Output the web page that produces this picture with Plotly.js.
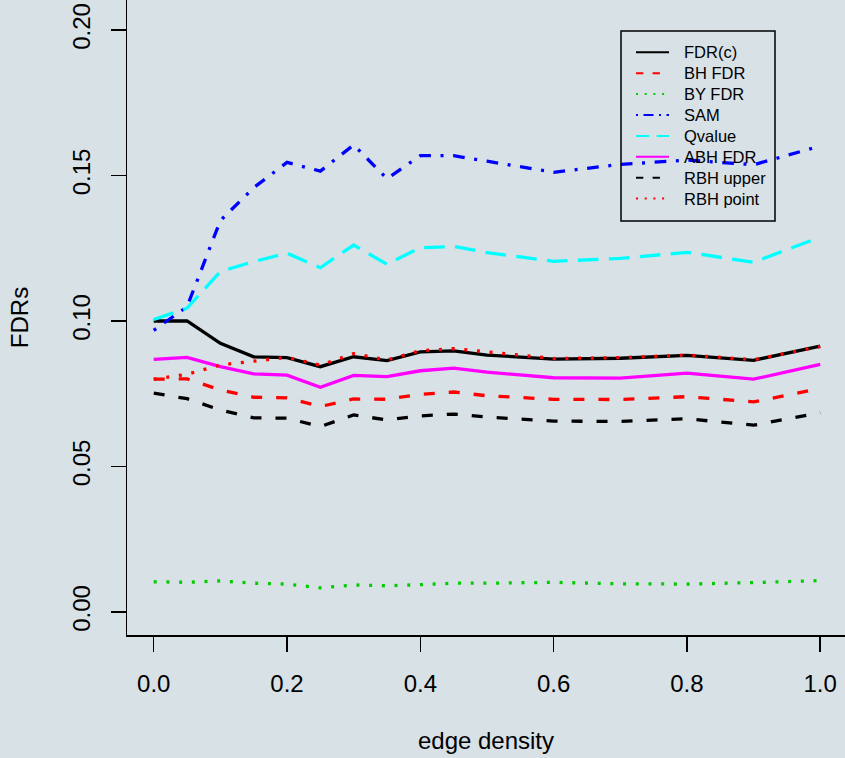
<!DOCTYPE html>
<html><head><meta charset="utf-8">
<script src="https://cdn.plot.ly/plotly-3.0.1.min.js"></script>
<style>html,body{margin:0;padding:0;background:#D7E1E6;}</style>
</head><body>
<div id="chart" style="width:845px;height:758px;"></div>
<script>
// ---- data ----
const edgeDensity = [0, 0.05, 0.1, 0.15, 0.2, 0.25, 0.3, 0.35, 0.4, 0.45, 0.5, 0.6, 0.7, 0.8, 0.9, 1.0];
const fdrC     = [0.1000, 0.1000, 0.0923, 0.0877, 0.0874, 0.0843, 0.0877, 0.0864, 0.0894, 0.0897, 0.0883, 0.0869, 0.0872, 0.0882, 0.0865, 0.0914];
const bhFDR    = [0.0800, 0.0801, 0.0763, 0.0738, 0.0736, 0.0706, 0.0732, 0.0731, 0.0748, 0.0756, 0.0743, 0.0731, 0.0730, 0.0740, 0.0722, 0.0768];
const byFDR    = [0.0104, 0.0102, 0.0107, 0.0099, 0.0096, 0.0083, 0.0093, 0.0090, 0.0094, 0.0099, 0.0099, 0.0102, 0.0097, 0.0096, 0.0101, 0.0108];
const sam      = [0.0968, 0.1049, 0.1345, 0.1458, 0.1545, 0.1515, 0.1605, 0.1489, 0.1568, 0.1568, 0.1549, 0.1511, 0.1538, 0.1553, 0.1537, 0.1601];
const qvalue   = [0.1005, 0.1044, 0.1170, 0.1204, 0.1233, 0.1183, 0.1261, 0.1195, 0.1252, 0.1256, 0.1235, 0.1205, 0.1215, 0.1236, 0.1202, 0.1288];
const abhFDR   = [0.0868, 0.0875, 0.0843, 0.0818, 0.0814, 0.0772, 0.0813, 0.0809, 0.0829, 0.0838, 0.0824, 0.0805, 0.0804, 0.0821, 0.0800, 0.0851];
const rbhUpper = [0.0752, 0.0733, 0.0694, 0.0667, 0.0666, 0.0637, 0.0677, 0.0660, 0.0674, 0.0680, 0.0670, 0.0656, 0.0655, 0.0664, 0.0642, 0.0685];
const rbhPoint = [0.0800, 0.0817, 0.0849, 0.0863, 0.0875, 0.0848, 0.0888, 0.0866, 0.0898, 0.0905, 0.0893, 0.0871, 0.0874, 0.0883, 0.0867, 0.0912];

const seriesNames = ['FDR(c)', 'BH FDR', 'BY FDR', 'SAM', 'Qvalue', 'ABH FDR', 'RBH upper', 'RBH point'];
const xTickVals = [0, 0.2, 0.4, 0.6, 0.8, 1.0];
const xTickText = ['0.0', '0.2', '0.4', '0.6', '0.8', '1.0'];
const yTickVals = [0, 0.05, 0.1, 0.15, 0.2];
const yTickText = ['0.00', '0.05', '0.10', '0.15', '0.20'];

// ---- styles ----
const seriesValues = [fdrC, bhFDR, byFDR, sam, qvalue, abhFDR, rbhUpper, rbhPoint];
const colors = ['#000000', '#FF0000', '#00CD00', '#0000FF', '#00FFFF', '#FF00FF', '#000000', '#FF0000'];
const plotDash = ['solid', '11px,14px', '3px,9.7px', '3px,9.6px,11.7px,9.6px', '20.7px,10.3px', 'solid', '11px,14px', '3px,9.7px'];
const legendDash = ['solid', '7.3px,9.3px', '2px,6.7px', '2px,5.5px,10px,5.5px', '13.3px,7.3px', 'solid', '7.3px,9.3px', '2px,6.7px'];

const BG = '#D7E1E6';
const FONT = 'Liberation Sans, Arial, Helvetica, sans-serif';
const L = 127, T = 0, W = 718, H = 635;
const px = X => (X - L) / W;
const py = Y => (T + H - Y) / H;

const traces = seriesNames.map((n, i) => ({
  type: 'scatter', mode: 'lines', name: n,
  x: edgeDensity, y: seriesValues[i],
  line: {color: colors[i], width: 3.3, dash: plotDash[i]},
  showlegend: false, hoverinfo: 'skip'
}));

// hand-drawn legend (R style)
const shapes = [{type: 'rect', xref: 'paper', yref: 'paper',
  x0: px(621), x1: px(775), y0: py(221), y1: py(31),
  line: {color: '#000000', width: 1.5}, fillcolor: 'rgba(0,0,0,0)'}];
const annotations = [];
seriesNames.forEach((n, i) => {
  const rowY = 52.3 + i * 20.9;
  shapes.push({type: 'line', xref: 'paper', yref: 'paper',
    x0: px(636), x1: px(669), y0: py(rowY), y1: py(rowY),
    line: {color: colors[i], width: 2, dash: legendDash[i]}});
  annotations.push({xref: 'paper', yref: 'paper', x: px(682), y: py(rowY),
    xanchor: 'left', yanchor: 'middle', showarrow: false, text: n,
    font: {family: FONT, size: 16.5, color: '#000000'}});
});

const layout = {
  width: 845, height: 758,
  margin: {l: L, r: 845 - L - W, t: T, b: 758 - T - H, pad: 0},
  paper_bgcolor: BG, plot_bgcolor: BG,
  font: {family: FONT, size: 24, color: '#000000'},
  showlegend: false,
  xaxis: {
    range: [-0.0401, 1.0372], autorange: false,
    tickvals: xTickVals, ticktext: xTickText,
    ticks: 'outside', ticklen: 15, tickwidth: 1.5, tickcolor: '#000000',
    showline: true, linecolor: '#000000', linewidth: 1.5, mirror: false,
    showgrid: false, zeroline: false,
    tickfont: {family: FONT, size: 24, color: '#000000'},
    ticklabelstandoff: 12,
    title: {text: 'edge density', font: {family: FONT, size: 24, color: '#000000'}, standoff: 36},
    automargin: false
  },
  yaxis: {
    range: [-0.0079, 0.2103], autorange: false,
    tickvals: yTickVals, ticktext: yTickText, tickangle: -90,
    ticks: 'outside', ticklen: 15, tickwidth: 1.5, tickcolor: '#000000',
    showline: true, linecolor: '#000000', linewidth: 1.5, mirror: false,
    showgrid: false, zeroline: false,
    tickfont: {family: FONT, size: 24, color: '#000000'},
    ticklabelstandoff: 11,
    title: {text: 'FDRs', font: {family: FONT, size: 24, color: '#000000'}, standoff: 32},
    automargin: false
  },
  shapes: shapes,
  annotations: annotations
};

Plotly.newPlot('chart', traces, layout, {displayModeBar: false, staticPlot: true});
</script>
</body></html>
